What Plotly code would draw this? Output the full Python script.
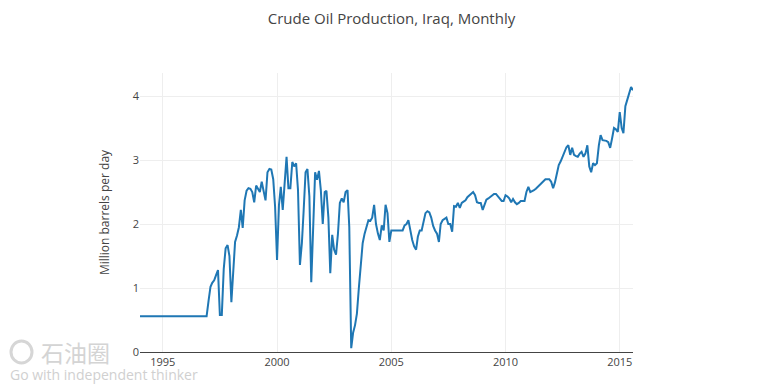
import pandas as pd
import plotly.graph_objects as go

# Monthly crude oil production, Iraq (million barrels per day), Jan 1994 - Aug 2015
y1994 = [0.56] * 12
y1995 = [0.56] * 12
y1996 = [0.56] * 12
y1997 = [0.8, 1.02, 1.08, 1.12, 1.2, 1.28, 0.58, 0.58, 1.3, 1.62, 1.67, 1.5]
y1998 = [0.78, 1.4, 1.72, 1.82, 1.95, 2.22, 1.94, 2.37, 2.52, 2.56, 2.55, 2.5]
y1999 = [2.34, 2.6, 2.55, 2.5, 2.66, 2.5, 2.37, 2.81, 2.86, 2.85, 2.7, 2.27]
y2000 = [1.44, 2.3, 2.58, 2.22, 2.64, 3.05, 2.56, 2.56, 2.97, 2.9, 2.95, 2.53]
y2001 = [1.36, 1.7, 2.2, 2.81, 2.86, 2.43, 1.09, 2.0, 2.81, 2.69, 2.83, 2.53]
y2002 = [2.0, 2.5, 2.52, 2.1, 1.23, 1.83, 1.6, 1.52, 1.85, 2.33, 2.4, 2.34]
y2003 = [2.5, 2.53, 1.95, 0.06, 0.3, 0.42, 0.6, 1.0, 1.3, 1.7, 1.85, 1.95]
y2004 = [2.06, 2.05, 2.1, 2.3, 2.0, 1.85, 1.75, 1.98, 1.9, 2.3, 2.17, 1.72]
y2005 = [1.9, 1.9, 1.9, 1.9, 1.9, 1.9, 1.9, 1.98, 2.0, 2.06, 1.9, 1.75]
y2006 = [1.65, 1.6, 1.8, 1.9, 1.9, 2.05, 2.17, 2.2, 2.18, 2.1, 1.97, 1.9]
y2007 = [1.85, 1.72, 2.0, 2.06, 2.08, 2.1, 2.0, 2.0, 1.88, 2.28, 2.27, 2.33]
y2008 = [2.25, 2.33, 2.35, 2.37, 2.42, 2.45, 2.48, 2.5, 2.45, 2.34, 2.33, 2.33]
y2009 = [2.22, 2.3, 2.38, 2.4, 2.42, 2.45, 2.47, 2.47, 2.43, 2.4, 2.36, 2.36]
y2010 = [2.45, 2.43, 2.4, 2.34, 2.39, 2.34, 2.31, 2.33, 2.36, 2.36, 2.36, 2.5]
y2011 = [2.58, 2.5, 2.51, 2.53, 2.55, 2.58, 2.6, 2.63, 2.67, 2.7, 2.7, 2.7]
y2012 = [2.66, 2.56, 2.65, 2.8, 2.92, 2.98, 3.05, 3.12, 3.2, 3.23, 3.08, 3.19]
y2013 = [3.08, 3.06, 3.05, 3.1, 3.13, 3.05, 3.1, 3.23, 2.9, 2.81, 2.95, 2.92]
y2014 = [2.95, 3.23, 3.39, 3.31, 3.31, 3.3, 3.28, 3.19, 3.34, 3.5, 3.48, 3.44]
y2015 = [3.75, 3.5, 3.42, 3.84, 3.94, 4.06, 4.14, 4.09]

production = (y1994 + y1995 + y1996 + y1997 + y1998 + y1999 + y2000 + y2001 +
              y2002 + y2003 + y2004 + y2005 + y2006 + y2007 + y2008 + y2009 +
              y2010 + y2011 + y2012 + y2013 + y2014 + y2015)
months = pd.date_range("1994-01-01", periods=len(production), freq="MS")

x_ticks = ["1995-01-01", "2000-01-01", "2005-01-01", "2010-01-01", "2015-01-01"]
x_tick_text = ["1995", "2000", "2005", "2010", "2015"]
y_ticks = [0, 1, 2, 3, 4]

W, H = 767, 380          # page body adds an 8px offset
L, R, T, B = 132, 142, 65, 36
PW, PH = W - L - R, H - T - B

def px(fx):  # figure px -> paper x
    return (fx - L) / PW

def py(fy):  # figure px -> paper y
    return (H - B - fy) / PH

fig = go.Figure()
fig.add_trace(go.Scatter(
    x=months, y=production, mode="lines",
    line=dict(color="#1f77b4", width=2),
    showlegend=False,
))

fig.update_layout(
    width=W, height=H,
    margin=dict(l=L, r=R, t=T, b=B),
    paper_bgcolor="white", plot_bgcolor="white",
    font=dict(family="Open Sans, verdana, arial, sans-serif", color="#444", size=11),
    title=dict(text="Crude Oil Production, Iraq, Monthly", x=0.5, xanchor="center",
               y=1 - 11 / H, yanchor="middle", font=dict(size=15, color="#444")),
    xaxis=dict(
        range=[months[0], months[-1]],
        tickvals=x_ticks, ticktext=x_tick_text,
        showgrid=True, gridcolor="#eeeeee", gridwidth=1,
        showline=True, linecolor="#444", linewidth=1,
        zeroline=False, ticks="", tickfont=dict(size=11, color="#444"),
    ),
    yaxis=dict(
        range=[0, 4.36],
        tickvals=y_ticks,
        showgrid=True, gridcolor="#eeeeee", gridwidth=1,
        zeroline=False, showline=False, ticks="",
        tickfont=dict(size=11, color="#444"),
        title=dict(text="Million barrels per day", font=dict(size=12, color="#444"), standoff=20),
    ),
)

# watermark
fig.add_shape(type="circle", xref="paper", yref="paper",
              x0=px(3), x1=px(24), y0=py(355), y1=py(333),
              line=dict(color="#d6d6d6", width=3))
fig.add_annotation(text="石油圈", xref="paper", yref="paper", x=px(31), y=py(344),
                   xanchor="left", yanchor="middle", showarrow=False,
                   font=dict(family="Noto Sans CJK SC", size=23, color="#d4d4d4"))
fig.add_annotation(text="Go with independent thinker", xref="paper", yref="paper",
                   x=px(0), y=py(366), xanchor="left", yanchor="middle", showarrow=False,
                   font=dict(family="Open Sans", size=14, color="#d0d0d0"))

fig.write_html("out.html")
